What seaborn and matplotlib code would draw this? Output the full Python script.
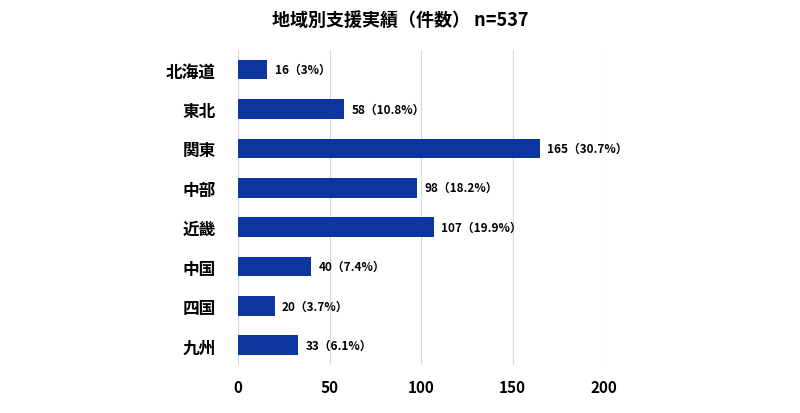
import seaborn as sns
import pandas as pd
import matplotlib.pyplot as plt

regions = ['北海道', '東北', '関東', '中部', '近畿', '中国', '四国', '九州']
counts = [16, 58, 165, 98, 107, 40, 20, 33]
shares = ['3%', '10.8%', '30.7%', '18.2%', '19.9%', '7.4%', '3.7%', '6.1%']
total = 537

plt.rcParams['font.family'] = 'Noto Sans CJK JP'
df = pd.DataFrame({'region': regions, 'count': counts})

fig = plt.figure(figsize=(8, 4.14), dpi=100)
ax = fig.add_axes([0.2975, 0.116, 0.4575, 0.761])
sns.barplot(data=df, x='count', y='region', color='#0c35a0', width=0.5,
            saturation=1, ax=ax, zorder=3)
ax.set_xlim(0, 200)
ax.set_xticks([0, 50, 100, 150, 200])
ax.grid(axis='x', color='#d9d9d9', linewidth=0.8, zorder=0)
for s in ax.spines.values():
    s.set_visible(False)
ax.tick_params(length=0)
ax.tick_params(axis='y', pad=16, labelsize=12)
ax.tick_params(axis='x', pad=10, labelsize=11)
for lab in ax.get_yticklabels() + ax.get_xticklabels():
    lab.set_fontweight('bold')
ax.set_xlabel('')
ax.set_ylabel('')
for i, (c, s) in enumerate(zip(counts, shares)):
    ax.text(c + 4, i, f'{c}（{s}）', va='center', ha='left', fontsize=8.5,
            fontweight='bold', zorder=4)
fig.text(0.5, 0.95, f'地域別支援実績（件数） n={total}', ha='center', va='center',
         fontsize=13, fontweight='bold')
fig.savefig('out.png', dpi=100)
